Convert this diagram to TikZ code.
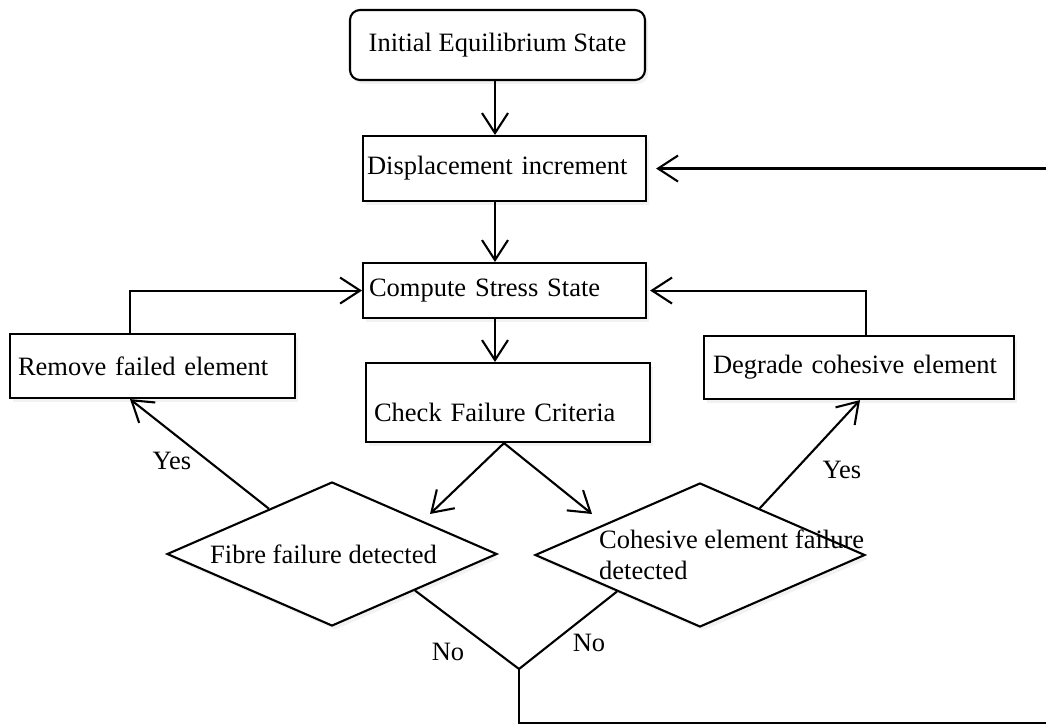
\documentclass[tikz,border=0pt]{standalone}
\usepackage{fontspec}
\setmainfont{Liberation Serif}
\usetikzlibrary{arrows.meta,shapes.geometric,shadows,calc}
\begin{document}
\begin{tikzpicture}[x=1pt,y=-1pt,
  font=\fontsize{26.5}{31}\selectfont,
  shad/.style={drop shadow={opacity=0.1, shadow xshift=3pt, shadow yshift=-4pt}},
  box/.style={draw, line width=2.1pt, fill=white, anchor=north west, inner ysep=0pt, align=left, shad},
  dia/.style={draw, diamond, line width=2.1pt, fill=white, inner sep=0pt, aspect=2.29, minimum width=330pt, minimum height=144pt, shad},
  arr/.style={line width=2.1pt, -{Straight Barb[length=20pt,width=26pt]}},
  conn/.style={line width=2.1pt},
  lbl/.style={inner sep=0pt}
]
\useasboundingbox (0,0) rectangle (1046,727);
\clip (0,0) rectangle (1046,727);

\node[box, rounded corners=10pt, anchor=center, minimum width=295pt, minimum height=70pt, align=center] (init) at (497.5,45) {Initial Equilibrium State};
\node[box, minimum width=283pt, minimum height=65pt, inner xsep=4pt, text width=275pt] (disp) at (362,135) {Displacement increment};
\node[box, minimum width=283pt, minimum height=55pt, inner xsep=6pt, text width=271pt] (comp) at (362,262) {Compute Stress State};
\node[box, minimum width=284pt, minimum height=79pt, inner xsep=8pt, text width=268pt] (check) at (365,362) {\rule{0pt}{39pt}Check Failure Criteria};
\node[box, minimum width=285pt, minimum height=64pt, inner xsep=8pt, text width=269pt] (remove) at (9,333) {Remove failed element};
\node[box, minimum width=310pt, minimum height=63pt, inner xsep=9pt, text width=292pt] (degrade) at (703,335) {Degrade cohesive element};

\node[dia] (fibre) at (332,554) {\hspace*{-17pt}Fibre failure detected};
\node[dia] (coh) at (700,555) {};
\node[lbl, anchor=west, align=left] (cohtext) at (599,555) {Cohesive element failure\\detected};

\coordinate (ax) at (495,0);
\coordinate (cx) at (504,0);
\coordinate (rx) at (130,0);
\coordinate (dx) at (866,0);
\coordinate (yx) at (860,0);
\coordinate (fibreIn) at (430,514);
\coordinate (cohIn) at (592,514);
\coordinate (join) at (519,669);
\coordinate (loop) at (1052,723);

\draw[arr] (init.south -| ax) -- (disp.north -| ax);
\draw[arr] (disp.south -| ax) -- (comp.north -| ax);
\draw[arr] (comp.south -| ax) -- (check.north -| ax);
\draw[arr] (check.south -| cx) -- (fibreIn);
\draw[arr] (check.south -| cx) -- (cohIn);
\draw[arr] ($(fibre.west)!0.62!(fibre.north)$) -- (remove.south -| rx);
\draw[arr] ($(coh.north)!0.36!(coh.east)$) -- (degrade.south -| yx);
\draw[arr] (remove.north -| rx) |- (comp.west);
\draw[arr, shorten >=3pt] (degrade.north -| dx) |- (comp.east);
\draw[conn] ($(fibre.east)!0.5!(fibre.south)$) -- (join);
\draw[conn] ($(coh.west)!0.5!(coh.south)$) -- (join);
\draw[arr, shorten >=9pt] (join) |- (loop) |- (disp.east);

\node[lbl] (yes1) at (172,461) {Yes};
\node[lbl] (yes2) at (842,470) {Yes};
\node[lbl] (no1) at (448,652) {No};
\node[lbl] (no2) at (589,643) {No};
\end{tikzpicture}
\end{document}
